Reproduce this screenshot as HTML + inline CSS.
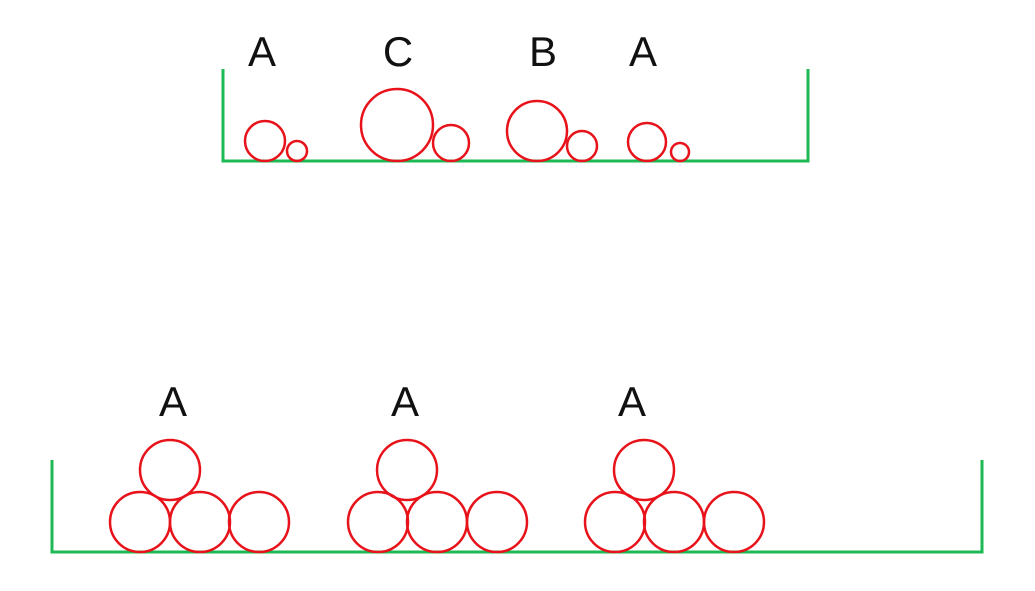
<!DOCTYPE html>
<html><head><style>body{margin:0;background:#fff}svg{display:block}</style></head>
<body>
<svg width="1035" height="591" viewBox="0 0 1035 591" xmlns="http://www.w3.org/2000/svg">
<g fill="none" stroke="#1db954" stroke-width="3">
<polyline points="223,69 223,161 808,161 808,69"/>
<polyline points="52,460 52,552 982,552 982,460"/>
</g>
<g fill="none" stroke="#e8121a" stroke-width="2.5">
<circle cx="265" cy="141" r="20"/><circle cx="297" cy="151" r="10"/>
<circle cx="397" cy="125" r="36"/><circle cx="451" cy="143" r="18"/>
<circle cx="537" cy="131" r="30"/><circle cx="582" cy="146" r="15"/>
<circle cx="647" cy="142" r="19"/><circle cx="680" cy="152" r="9"/>
<circle cx="140" cy="522" r="30"/><circle cx="200" cy="522" r="30"/><circle cx="259" cy="522" r="30"/><circle cx="170" cy="470" r="30"/>
<circle cx="378" cy="522" r="30"/><circle cx="437" cy="522" r="30"/><circle cx="497" cy="522" r="30"/><circle cx="407" cy="470" r="30"/>
<circle cx="615" cy="522" r="30"/><circle cx="674" cy="522" r="30"/><circle cx="734" cy="522" r="30"/><circle cx="644" cy="470" r="30"/>
</g>
<g font-family="Liberation Sans, sans-serif" font-size="42" fill="#111" text-anchor="middle">
<text x="262" y="66">A</text><text x="398" y="66">C</text><text x="543" y="66">B</text><text x="643" y="66">A</text>
<text x="173" y="416">A</text><text x="405" y="416">A</text><text x="632" y="416">A</text>
</g>
</svg>
</body></html>
